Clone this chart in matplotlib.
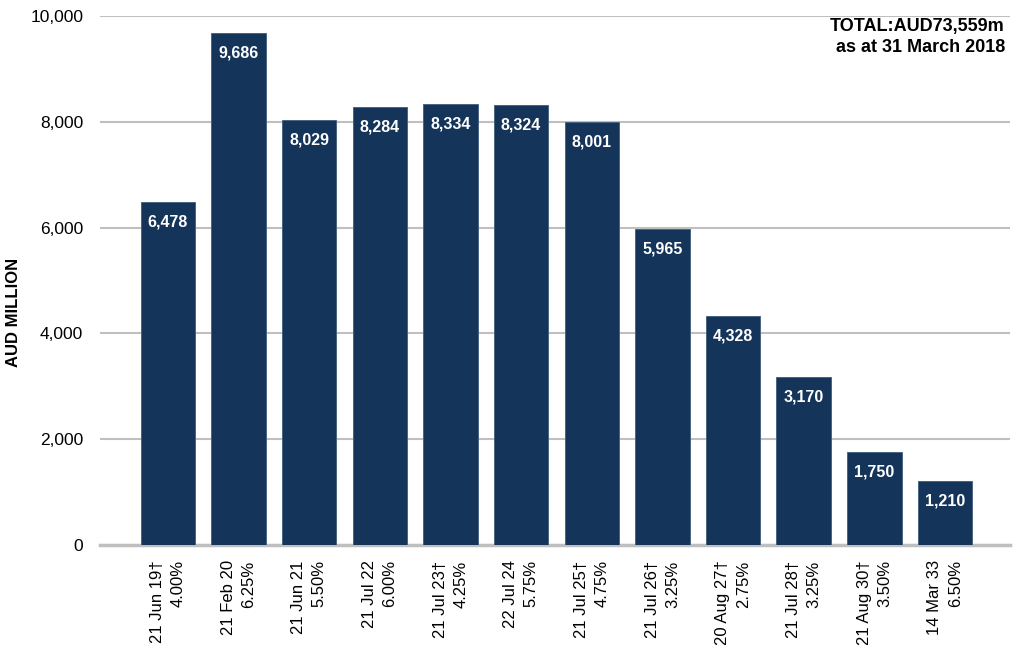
import matplotlib
matplotlib.use("Agg")
from matplotlib import pyplot as plt
from matplotlib.ticker import FuncFormatter

# maturity date / coupon for each bond line
fechas = ["21 Jun 19\u2020", "21 Feb 20", "21 Jun 21", "21 Jul 22", "21 Jul 23\u2020",
          "22 Jul 24", "21 Jul 25\u2020", "21 Jul 26\u2020", "20 Aug 27\u2020",
          "21 Jul 28\u2020", "21 Aug 30\u2020", "14 Mar 33"]
cupones = ["4.00%", "6.25%", "5.50%", "6.00%", "4.25%", "5.75%", "4.75%",
           "3.25%", "2.75%", "3.25%", "3.50%", "6.50%"]
importes = [6478, 9686, 8029, 8284, 8334, 8324, 8001, 5965, 4328, 3170, 1750, 1210]
ticks_y = [0, 2000, 4000, 6000, 8000, 10000]

AZUL = "#14345a"
GRIS = "#bfbfbf"
FUENTE = ["Liberation Sans Narrow", "Liberation Sans", "DejaVu Sans"]

fig = plt.figure(figsize=(10.16, 6.45), dpi=100)
ax = fig.add_axes([100 / 1016, 100 / 645, 910 / 1016, 529 / 645])

indice = range(len(importes))
barras = ax.bar(indice, importes, width=0.77, color=AZUL, edgecolor="#4a6584",
                linewidth=0.7, zorder=3)

for b, v in zip(barras, importes):
    ax.annotate(f"{v:,}", (b.get_x() + b.get_width() / 2, v), xytext=(0, -9),
                textcoords="offset points", ha="center", va="top", color="white",
                fontsize=11.5, fontweight="bold", family=FUENTE, zorder=4)

ax.set_xlim(-0.96, 11.92)
ax.set_ylim(0, 10000)
ax.set_yticks(ticks_y)
ax.yaxis.set_major_formatter(FuncFormatter(lambda v, p: f"{int(v):,}"))
ax.grid(axis="y", color=GRIS, linewidth=1.5, zorder=0)
ax.tick_params(length=0)
ax.tick_params(axis="y", labelsize=12.5, pad=12)
for lab in ax.get_yticklabels():
    lab.set_family(FUENTE)

ax.set_xticks(list(indice))
ax.set_xticklabels([f"{f}\n{c}" for f, c in zip(fechas, cupones)], rotation=90,
                   fontsize=12, family=FUENTE, multialignment="right", va="top",
                   linespacing=1.45)
ax.tick_params(axis="x", pad=11)

for lado in ["top", "right", "left"]:
    ax.spines[lado].set_visible(False)
ax.spines["bottom"].set_color(GRIS)
ax.spines["bottom"].set_linewidth(2.5)

ax.set_ylabel("AUD MILLION", fontsize=12, fontweight="bold", family=FUENTE)
ax.yaxis.set_label_coords(-0.087, 0.44)

fig.text(1005 / 1016, 1 - 18 / 645, "TOTAL:AUD73,559m\nas at 31 March 2018",
         ha="right", va="top", fontsize=13, fontweight="bold", family=FUENTE,
         multialignment="right", linespacing=1.3)

fig.savefig("out.png", dpi=100)
